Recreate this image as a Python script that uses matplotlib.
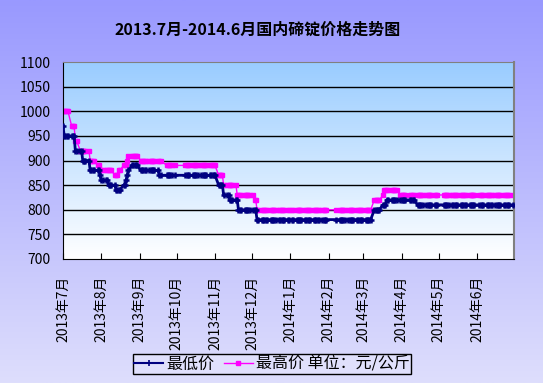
import numpy as np
import pandas as pd
import matplotlib
matplotlib.use('Agg')
from matplotlib import pyplot as plt
from matplotlib.lines import Line2D
import matplotlib.dates as mdates

plt.rcParams['font.family'] = ['Noto Sans CJK SC', 'DejaVu Sans']

title = '2013.7月-2014.6月国内碲锭价格走势图'
unit_label = '单位：元/公斤'

# step changes: date the price moved, new price
low_dates = ['2013-07-01', '2013-07-02', '2013-07-11', '2013-07-17', '2013-07-23',
             '2013-07-31', '2013-08-01', '2013-08-07', '2013-08-13', '2013-08-19',
             '2013-08-21', '2013-08-22', '2013-08-23', '2013-08-26', '2013-09-02',
             '2013-09-17', '2013-11-04', '2013-11-08', '2013-11-13', '2013-11-20',
             '2013-12-05', '2014-03-10', '2014-03-17', '2014-03-20', '2014-04-14']
low_vals = [970, 950, 920, 900, 880, 870, 860, 850, 840, 850, 860, 870, 880, 890, 880,
            870, 850, 830, 820, 800, 780, 800, 810, 820, 810]

high_dates = ['2013-07-01', '2013-07-08', '2013-07-11', '2013-07-15', '2013-07-23',
              '2013-07-29', '2013-07-31', '2013-08-12', '2013-08-15', '2013-08-19',
              '2013-08-22', '2013-08-23', '2013-09-02', '2013-09-23', '2013-11-04',
              '2013-11-08', '2013-11-19', '2013-12-03', '2013-12-05', '2014-03-10',
              '2014-03-17', '2014-03-18', '2014-03-31']
high_vals = [1000, 970, 940, 920, 900, 890, 880, 870, 880, 890, 900, 910, 900, 890,
             870, 850, 830, 820, 800, 820, 830, 840, 830]

holidays = ['2013-09-19', '2013-09-20', '2013-10-01', '2013-10-02', '2013-10-03',
            '2013-10-04', '2013-10-07', '2014-01-01', '2014-01-31', '2014-02-03',
            '2014-02-04', '2014-02-05', '2014-02-06', '2014-04-07', '2014-05-01',
            '2014-05-02', '2014-06-02']

days = pd.bdate_range('2013-07-01', '2014-06-30')
days = days[~days.isin(pd.to_datetime(holidays))]


def steps(dates, vals):
    s = pd.Series(vals, index=pd.to_datetime(dates))
    return s.reindex(days, method='ffill')


low = steps(low_dates, low_vals)
high = steps(high_dates, high_vals)

month_ticks = pd.date_range('2013-07-01', '2014-06-01', freq='MS')
month_labels = [f'{d.year}年{d.month}月' for d in month_ticks]

fig = plt.figure(figsize=(5.43, 3.83), dpi=100)

# background gradients
bg = fig.add_axes([0, 0, 1, 1], zorder=-10)
grad = np.linspace(0, 1, 256)[:, None]
c_top = np.array([153, 153, 255]) / 255
c_bot = np.array([222, 222, 252]) / 255
img = c_top + (c_bot - c_top) * grad[..., None]
bg.imshow(img, aspect='auto', extent=[0, 1, 0, 1])
bg.axis('off')

ax = fig.add_axes([63 / 543, 1 - 259 / 383, 451 / 543, 197 / 383])
p_top = np.array([153, 204, 255]) / 255
p_bot = np.array([255, 255, 255]) / 255
pimg = p_top + (p_bot - p_top) * grad[..., None]
x0 = mdates.date2num(pd.Timestamp('2013-07-01'))
x1 = mdates.date2num(pd.Timestamp('2014-07-01'))
ax.imshow(pimg, aspect='auto', extent=[x0, x1, 700, 1100], zorder=0)

for v in range(750, 1100, 50):
    ax.axhline(v, color='black', lw=1, zorder=1)

ax.plot(low.index, low.values, color='#000080', lw=2, marker='+', ms=5, mew=1.8,
        zorder=3)
ax.plot(high.index, high.values, color='#FF00FF', lw=1, marker='s', ms=3.5,
        mec='#FF00FF', zorder=2)

ax.set_xlim(x0, x1)
ax.set_ylim(700, 1100)
ax.set_yticks(range(700, 1101, 50))
ax.tick_params(axis='y', length=0, labelsize=10, pad=9)
ax.set_xticks(mdates.date2num(month_ticks))
ax.set_xticklabels(month_labels, rotation=90, fontsize=10)
ax.tick_params(axis='x', direction='in', length=4, pad=12)
ax.spines['top'].set_color('#808080')
ax.spines['right'].set_color('#808080')
ax.spines['right'].set_linewidth(1.5)

fig.text(258 / 543, 1 - 30 / 383, title, ha='center', va='center', fontsize=11.5,
         fontweight='bold')

handles = [Line2D([], [], color='#000080', lw=1.5, marker='+', ms=4, mew=1.2),
           Line2D([], [], color='#FF00FF', lw=1, marker='s', ms=3)]
leg = fig.legend(handles, ['最低价', '最高价 ' + unit_label], loc='center',
                 bbox_to_anchor=(272 / 543, 1 - 364 / 383), ncol=2, fontsize=11.5,
                 frameon=True, fancybox=False, edgecolor='black',
                 facecolor='#E0E0FC', framealpha=1, handlelength=1.8,
                 handletextpad=0.2, columnspacing=0.6, borderpad=0.1)
leg.get_frame().set_linewidth(1)

plt.savefig('out.png', dpi=100)
